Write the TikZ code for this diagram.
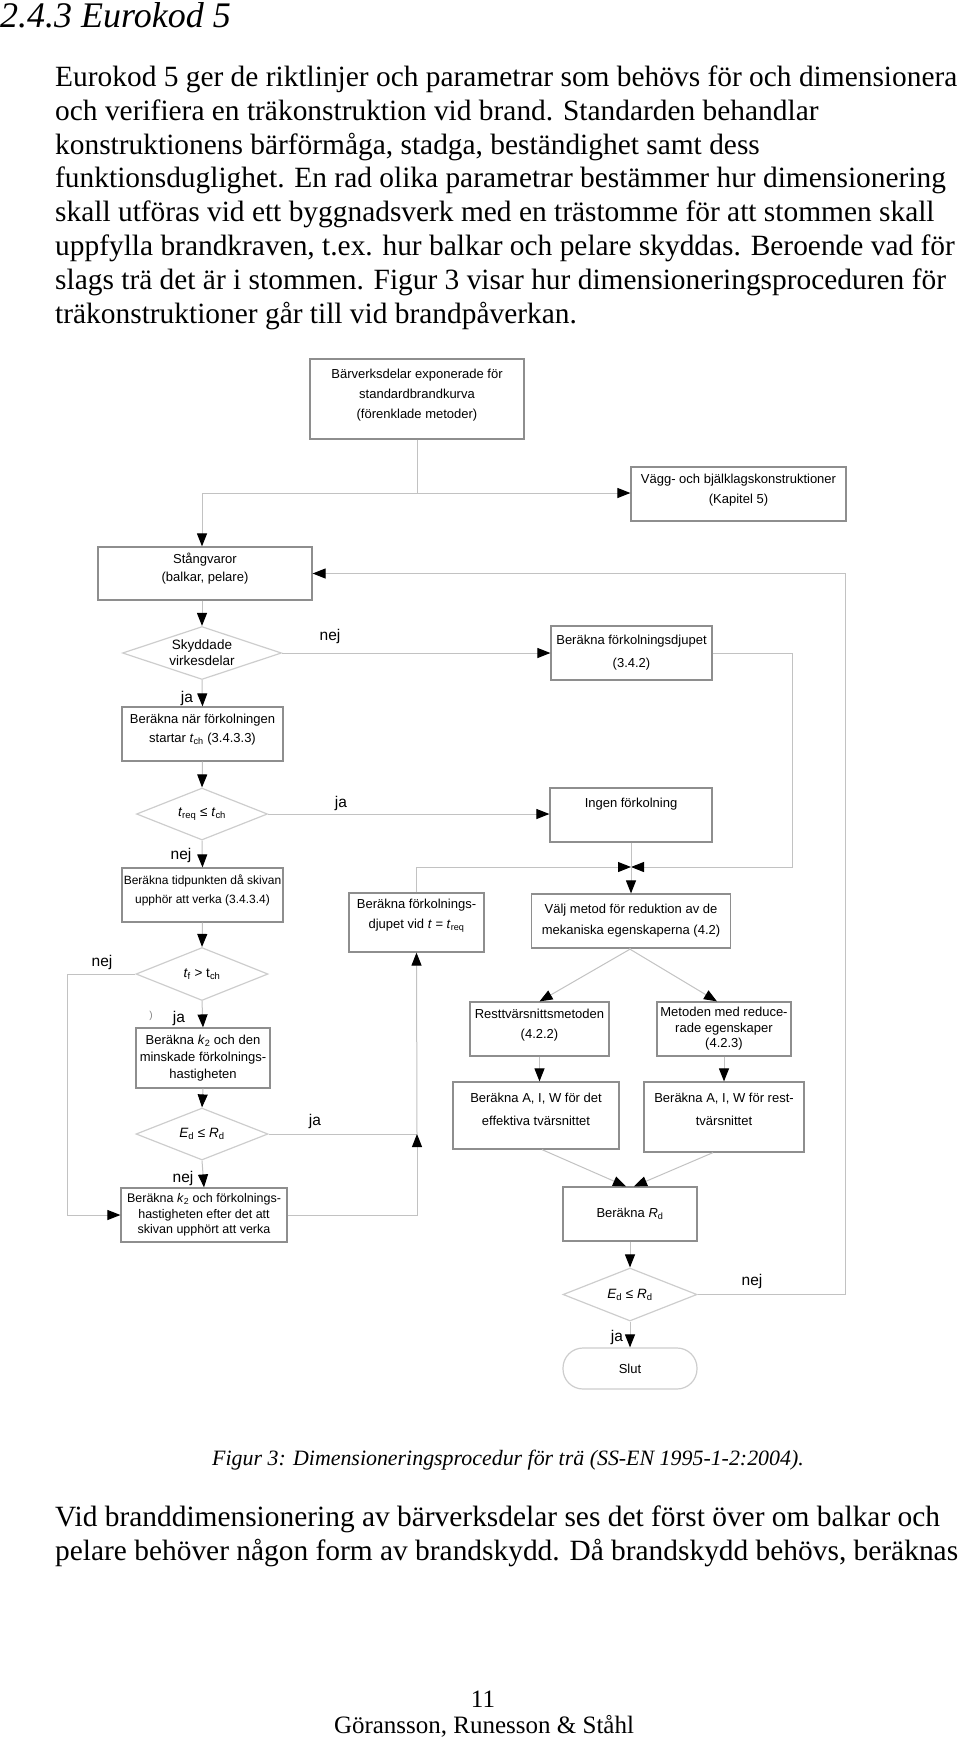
\documentclass[tikz,border=0pt]{standalone}
\usepackage{fontspec}
\setmainfont{Liberation Serif}
\newfontfamily\chartfont{Liberation Sans}
\usetikzlibrary{arrows.meta,shapes.geometric}

\definecolor{boxline}{HTML}{8E8E8E}
\definecolor{flowline}{HTML}{C2C2C2}
\definecolor{diamline}{HTML}{CDCDCD}

\tikzset{
  body/.style={anchor=base west, inner sep=0pt, font=\fontsize{29.4}{34}\selectfont},
  box/.style={draw=boxline, line width=1.2pt, inner sep=0pt, align=center,
    font=\chartfont\fontsize{13}{20}\selectfont},
  lift/.style={text depth=#1},
  test/.style={diamond, draw=diamline, line width=1.2pt, inner sep=0pt, aspect=2.6,
    align=center, font=\chartfont\fontsize{13.5}{16}\selectfont},
  answer/.style={inner sep=0pt, font=\chartfont\fontsize{15.5}{18}\selectfont},
  link/.style={draw=flowline, line width=1pt},
  go/.style={link, -{Triangle[length=13pt,width=10pt,color=black]}},
}

\begin{document}
\begin{tikzpicture}[x=1pt, y=-1pt]
  \useasboundingbox (0,0) rectangle (960,1741);

  % page text
  \node[body, font=\itshape\fontsize{36}{40}\selectfont] (title) at (0,27) {2.4.3 Eurokod 5};
  \node[body] (p1) at (55,86) {Eurokod 5 ger de riktlinjer och parametrar som behövs för och dimensionera};
  \node[body] (p2) at (55,120) {och verifiera en träkonstruktion vid brand. Standarden behandlar};
  \node[body] (p3) at (55,154) {konstruktionens bärförmåga, stadga, beständighet samt dess};
  \node[body] (p4) at (55,187) {funktionsduglighet. En rad olika parametrar bestämmer hur dimensionering};
  \node[body] (p5) at (55,221) {skall utföras vid ett byggnadsverk med en trästomme för att stommen skall};
  \node[body] (p6) at (55,255) {uppfylla brandkraven, t.ex. hur balkar och pelare skyddas. Beroende vad för};
  \node[body] (p7) at (55,289) {slags trä det är i stommen. Figur 3 visar hur dimensioneringsproceduren för};
  \node[body] (p8) at (55,323) {träkonstruktioner går till vid brandpåverkan.};

  % flowchart boxes
  \node[box, minimum width=214pt, minimum height=80pt, lift=10.5pt] (top) at (417,399)
    {Bärverksdelar exponerade för\\standardbrandkurva\\(förenklade metoder)};
  \node[box, minimum width=215pt, minimum height=54pt, lift=10.5pt] (wall) at (738.5,494)
    {Vägg- och bjälklagskonstruktioner\\(Kapitel 5)};
  \node[box, minimum width=214pt, minimum height=53pt, font=\chartfont\fontsize{13}{18}\selectfont, lift=11.5pt] (bar) at (205,573.5)
    {Stångvaror\\(balkar, pelare)};
  \node[test, minimum width=159pt, minimum height=53pt] (protect) at (202,653)
    {Skyddade\\virkesdelar};
  \node[box, minimum width=161pt, minimum height=54pt, font=\chartfont\fontsize{13}{23}\selectfont] (chardepth) at (631.5,653)
    {Beräkna förkolningsdjupet\\(3.4.2)};
  \node[box, minimum width=161pt, minimum height=54pt, font=\chartfont\fontsize{13}{19}\selectfont, lift=11.5pt] (tch) at (202.5,734)
    {Beräkna när förkolningen\\startar \textit{t}\textsubscript{ch} (3.4.3.3)};
  \node[test, minimum width=131pt, minimum height=52pt] (treq) at (202,814)
    {\textit{t}\textsubscript{req} ≤ \textit{t}\textsubscript{ch}};
  \node[box, minimum width=162pt, minimum height=54pt, lift=24pt] (nochar) at (631,815)
    {Ingen förkolning};
  \node[box, minimum width=161pt, minimum height=54pt, font=\chartfont\fontsize{12}{19}\selectfont, lift=11pt] (plate) at (202.5,895)
    {Beräkna tidpunkten då skivan\\upphör att verka (3.4.3.4)};
  \node[box, minimum width=135pt, minimum height=59pt, lift=17.5pt] (depth) at (416.5,922.5)
    {Beräkna förkolnings-\\djupet vid \textit{t} = \textit{t}\textsubscript{req}};
  \node[box, minimum width=199pt, minimum height=54pt, font=\chartfont\fontsize{13}{21}\selectfont] (method) at (631,921)
    {Välj metod för reduktion av de\\mekaniska egenskaperna (4.2)};
  \node[test, minimum width=132pt, minimum height=53pt] (tf) at (202,974)
    {\textit{t}\textsubscript{f} > t\textsubscript{ch}};
  \node[box, minimum width=134pt, minimum height=60pt, font=\chartfont\fontsize{13}{17}\selectfont] (k2a) at (203,1058)
    {Beräkna \textit{k}\textsubscript{2} och den\\minskade förkolnings-\\hastigheten};
  \node[test, minimum width=132pt, minimum height=52pt] (ed1) at (202,1134)
    {\textit{E}\textsubscript{d} ≤ \textit{R}\textsubscript{d}};
  \node[box, minimum width=166pt, minimum height=54pt, font=\chartfont\fontsize{12.5}{15.5}\selectfont] (k2b) at (204,1215)
    {Beräkna \textit{k}\textsubscript{2} och förkolnings-\\hastigheten efter det att\\skivan upphört att verka};
  \node[box, minimum width=139pt, minimum height=54pt, lift=10.5pt] (residual) at (539.5,1029)
    {Resttvärsnittsmetoden\\(4.2.2)};
  \node[box, minimum width=134pt, minimum height=54pt, font=\chartfont\fontsize{13}{15.5}\selectfont] (reduced) at (724,1029)
    {Metoden med reduce-\\rade egenskaper\\(4.2.3)};
  \node[box, minimum width=166pt, minimum height=67pt, font=\chartfont\fontsize{13}{23}\selectfont, lift=12.5pt] (aiweff) at (536,1115.5)
    {Beräkna A, I, W för det\\effektiva tvärsnittet};
  \node[box, minimum width=160pt, minimum height=70pt, font=\chartfont\fontsize{13}{23}\selectfont, lift=15.5pt] (aiwrest) at (724,1117)
    {Beräkna A, I, W för rest-\\tvärsnittet};
  \node[box, minimum width=134pt, minimum height=54pt] (rd) at (630,1214)
    {Beräkna \textit{R}\textsubscript{d}};
  \node[test, minimum width=134pt, minimum height=53pt] (ed2) at (630,1294.5)
    {\textit{E}\textsubscript{d} ≤ \textit{R}\textsubscript{d}};
  \node[box, draw=diamline, rounded corners=20pt, minimum width=134pt, minimum height=41pt] (stop) at (630,1368.5)
    {Slut};

  % junctions
  \coordinate (split) at (417,493);
  \coordinate (merge) at (631,867);
  \coordinate (join) at (417,1134);

  % connectors
  \draw[link] (top) -- (split);
  \draw[go] (protect.north |- split) -- (wall.west |- split);
  \draw[go] (protect.north |- split) -- (protect.north |- bar.north);
  \draw[go] (protect.north |- bar.south) -- (protect.north);
  \draw[go] (protect.east) -- (chardepth.west);
  \draw[go] (protect.south) -- (tch.north);
  \draw[go] (tch.south) -- (treq.north);
  \draw[go] (treq.east) -- (treq.east -| nochar.west);
  \draw[go] (treq.south) -- (plate.north);
  \draw[go] (plate.south) -- (tf.north);
  \draw[go] (tf.west) -- ++(-68,0) |- (k2b.west);
  \draw[go] (tf.south) -- (k2a.north);
  \draw[go] (k2a.south) -- (ed1.north);
  \draw[go] (ed1.south) -- (k2b.north);
  \draw[link] (ed1.east) -- (join);
  \draw[go] (k2b.east) -| (join);
  \draw[go] (join) -- (depth.south);
  \draw[go] (depth.north) |- (merge);
  \draw[go] (chardepth.east) -- ++(80,0) |- (merge);
  \draw[go] (nochar.south) -- (method.north);
  \draw[go] (method.south) -- (residual.north);
  \draw[go] ([xshift=-2pt]method.south) -- ([xshift=-7pt]reduced.north);
  \draw[go] (residual.south) -- (residual.south |- aiweff.north);
  \draw[go] (reduced.south) -- (aiwrest.north);
  \draw[go] ([xshift=6pt]aiweff.south) -- ([xshift=-4pt]rd.north);
  \draw[go] ([xshift=-11pt]aiwrest.south) -- ([xshift=4pt]rd.north);
  \draw[go] (rd.south) -- (ed2.north);
  \draw[go] (ed2.east) -- ++(148,0) |- (bar.east);
  \draw[go] (ed2.south) -- (stop.north);

  % answers
  \node[answer] (nej1) at (330,636) {nej};
  \node[answer] (ja1) at (187,698) {ja};
  \node[answer] (ja2) at (341,803) {ja};
  \node[answer] (nej2) at (181,855) {nej};
  \node[answer] (nej3) at (102,962) {nej};
  \node[answer] (ja3) at (179,1018) {ja};
  \node[answer, font=\chartfont\fontsize{10}{12}\selectfont, text=gray] (mark) at (151,1016) {)};
  \node[answer] (ja4) at (315,1121) {ja};
  \node[answer] (nej4) at (183,1178) {nej};
  \node[answer] (nej5) at (752,1281) {nej};
  \node[answer] (ja5) at (617,1337) {ja};

  % caption and following text
  \node[body, font=\itshape\fontsize{21.9}{26}\selectfont] (caption) at (212,1465)
    {Figur 3: Dimensioneringsprocedur för trä (SS-EN 1995-1-2:2004).};
  \node[body] (q1) at (55,1526) {Vid branddimensionering av bärverksdelar ses det först över om balkar och};
  \node[body] (q2) at (55,1560) {pelare behöver någon form av brandskydd. Då brandskydd behövs, beräknas};
  \node[anchor=base, inner sep=0pt, font=\fontsize{25}{30}\selectfont] (page) at (483,1707) {11};
  \node[anchor=base, inner sep=0pt, font=\fontsize{25}{30}\selectfont] (authors) at (484,1733) {Göransson, Runesson \& Ståhl};
\end{tikzpicture}
\end{document}
